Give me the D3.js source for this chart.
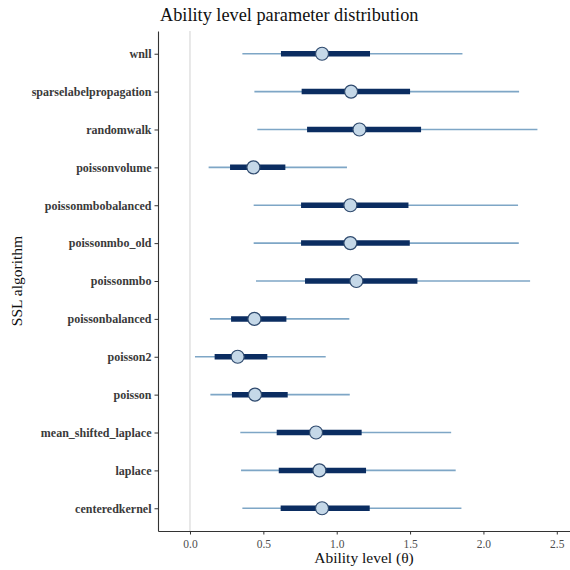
<!DOCTYPE html>
<html>
<head>
<meta charset="utf-8">
<script src="https://cdn.jsdelivr.net/npm/d3@7"></script>
<style>
  body { margin: 0; background: #fff; }
</style>
</head>
<body>
<div id="chart"></div>
<script>
// Posterior summaries per SSL algorithm (outer interval, inner interval, median)
const algorithms = ['wnll', 'sparselabelpropagation', 'randomwalk', 'poissonvolume',
  'poissonmbobalanced', 'poissonmbo_old', 'poissonmbo', 'poissonbalanced',
  'poisson2', 'poisson', 'mean_shifted_laplace', 'laplace', 'centeredkernel'];
const outerLow  = [0.357, 0.439, 0.459, 0.127, 0.434, 0.434, 0.450, 0.136, 0.034, 0.139, 0.343, 0.348, 0.357];
const innerLow  = [0.620, 0.761, 0.798, 0.273, 0.757, 0.757, 0.784, 0.280, 0.168, 0.286, 0.591, 0.605, 0.618];
const medians   = [0.900, 1.098, 1.155, 0.432, 1.093, 1.093, 1.134, 0.439, 0.325, 0.443, 0.859, 0.882, 0.900];
const innerHigh = [1.227, 1.500, 1.575, 0.650, 1.489, 1.498, 1.550, 0.657, 0.527, 0.666, 1.170, 1.200, 1.225];
const outerHigh = [1.857, 2.243, 2.368, 1.070, 2.236, 2.241, 2.318, 1.086, 0.925, 1.089, 1.780, 1.811, 1.850];
const xTicks = [0, 0.5, 1, 1.5, 2, 2.5];

const FONT = "'Liberation Serif', 'DejaVu Serif', serif";
const width = 570, height = 570;
const margin = { top: 31, right: 0, bottom: 39, left: 158 };

const rows = algorithms.map((name, i) => ({
  name,
  ll: outerLow[i], l: innerLow[i], m: medians[i], h: innerHigh[i], hh: outerHigh[i]
}));

const svg = d3.select('#chart').append('svg')
  .attr('width', width)
  .attr('height', height)
  .style('font-family', FONT);

const x = d3.scaleLinear()
  .domain([-0.218, 2.59])
  .range([margin.left, width - margin.right]);

const y = d3.scalePoint()
  .domain(algorithms)
  .range([margin.top, height - margin.bottom])
  .padding(0.6);

// reference line at zero
svg.append('line')
  .attr('x1', x(0)).attr('x2', x(0))
  .attr('y1', margin.top).attr('y2', height - margin.bottom)
  .attr('stroke', '#d9d9d9')
  .attr('stroke-width', 1.2);

const g = svg.append('g');

g.selectAll('line.outer')
  .data(rows)
  .enter()
  .append('line')
  .attr('class', 'outer')
  .attr('x1', d => x(d.ll)).attr('x2', d => x(d.hh))
  .attr('y1', d => y(d.name)).attr('y2', d => y(d.name))
  .attr('stroke', '#7ea6c6')
  .attr('stroke-width', 1.6);

g.selectAll('line.inner')
  .data(rows)
  .enter()
  .append('line')
  .attr('class', 'inner')
  .attr('x1', d => x(d.l)).attr('x2', d => x(d.h))
  .attr('y1', d => y(d.name)).attr('y2', d => y(d.name))
  .attr('stroke', '#0b2d61')
  .attr('stroke-width', 5.5);

g.selectAll('circle')
  .data(rows)
  .enter()
  .append('circle')
  .attr('cx', d => x(d.m))
  .attr('cy', d => y(d.name))
  .attr('r', 6.5)
  .attr('fill', '#c5d8e8')
  .attr('stroke', '#2f4a6e')
  .attr('stroke-width', 1.2);

// axes
const xAxis = svg.append('g')
  .attr('transform', `translate(0,${height - margin.bottom})`)
  .call(d3.axisBottom(x).tickValues(xTicks).tickFormat(d3.format('.1f')).tickSize(3.5).tickSizeOuter(0));
xAxis.attr('font-family', null);
xAxis.select('.domain').attr('stroke', '#333').attr('stroke-width', 1.1);
xAxis.selectAll('.tick line').attr('stroke', '#333');
xAxis.selectAll('.tick text')
  .attr('fill', '#4d4d4d')
  .style('font-family', FONT)
  .style('font-size', '11.5px')
  .attr('dy', '0.95em');

const yAxis = svg.append('g')
  .attr('transform', `translate(${margin.left},0)`)
  .call(d3.axisLeft(y).tickSize(3.5).tickSizeOuter(0));
yAxis.attr('font-family', null);
yAxis.select('.domain').attr('stroke', '#333').attr('stroke-width', 1.1);
yAxis.selectAll('.tick line').attr('stroke', '#333');
yAxis.selectAll('.tick text')
  .attr('fill', '#3a3a3a')
  .style('font-family', FONT)
  .style('font-size', '12px')
  .style('font-weight', 'bold');

// titles
svg.append('text')
  .attr('x', 160)
  .attr('y', 21)
  .style('font-size', '18.3px')
  .attr('fill', '#111')
  .text('Ability level parameter distribution');

svg.append('text')
  .attr('x', (margin.left + width - margin.right) / 2)
  .attr('y', 563)
  .attr('text-anchor', 'middle')
  .style('font-size', '15.5px')
  .attr('fill', '#111')
  .text('Ability level (θ)');

svg.append('text')
  .attr('transform', `translate(22,${(margin.top + height - margin.bottom) / 2}) rotate(-90)`)
  .attr('text-anchor', 'middle')
  .style('font-size', '15.5px')
  .attr('fill', '#111')
  .text('SSL algorithm');
</script>
</body>
</html>
